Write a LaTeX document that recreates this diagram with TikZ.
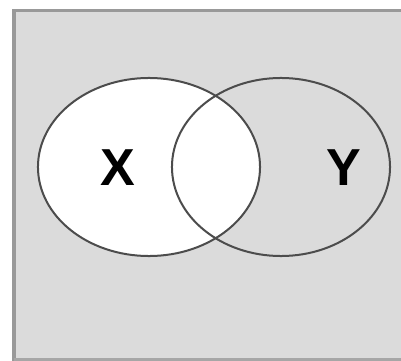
\documentclass[tikz,border=0pt]{standalone}
\usepackage{fontspec}
\setmainfont{Liberation Sans}
\usetikzlibrary{shapes.geometric}
\tikzset{
  panel/.style={
    fill=black!14,
    draw=none
  },
  frame/.style={
    draw=black!40,
    line width=0.075cm
  },
  venn/.style={
    shape = ellipse,
    draw = black!70,
    line width = 0.05cm,
    inner sep = 0,
    minimum width = 5.55cm,
    minimum height = 4.45cm
  },
  setlabel/.style={
    font=\fontsize{37}{40}\selectfont\bfseries,
    inner sep = 0
  }
}
\begin{document}
\begin{tikzpicture}[x=0.025cm,y=-0.025cm]
    \useasboundingbox (0,0) rectangle (401,361);
    % background panel
    \fill[panel] (14,11) rectangle (401,361);
    \draw[frame] (14,361) -- (14,11) -- (401,11);
    \draw[frame,black!35] (14,359) -- (401,359);
    % the two sets
    \node[venn,fill=white] (x) at (149,167) {};
    \node[venn,minimum width=5.45cm] (y) at (281,167) {};
    \node[setlabel] (lx) at (118,168) {X};
    \node[setlabel] (ly) at (344,168) {Y};
\end{tikzpicture}
\end{document}
